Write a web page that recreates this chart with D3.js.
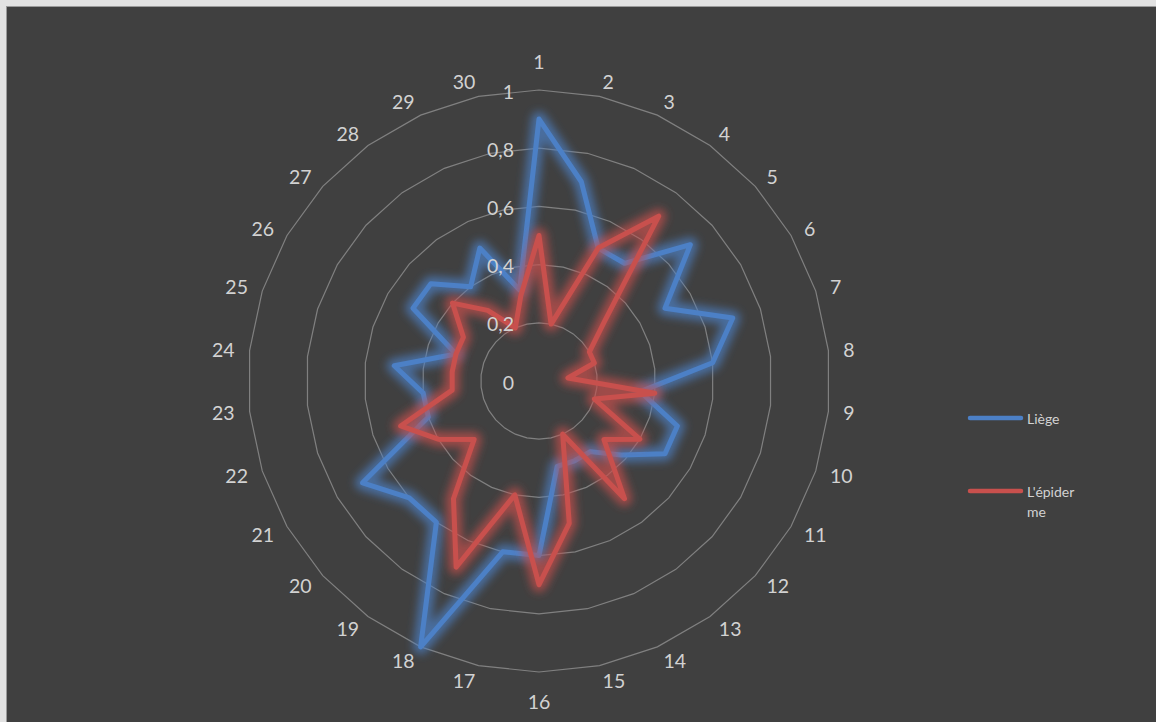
<!DOCTYPE html>
<html>
<head>
<meta charset="utf-8">
<script src="https://cdn.jsdelivr.net/npm/d3@7"></script>
<style>
  html, body { margin: 0; padding: 0; background: #e2e2e2; }
  svg { display: block; }
</style>
</head>
<body>
<svg id="chart" width="1156" height="722"></svg>
<script>
// Categories around the radar (clockwise from the top)
const categories = ["1","2","3","4","5","6","7","8","9","10","11","12","13","14","15",
                    "16","17","18","19","20","21","22","23","24","25","26","27","28","29","30"];

// Series values
const liegeValues = [0.9, 0.7, 0.5, 0.5, 0.7, 0.5, 0.7, 0.6, 0.35, 0.5,
                     0.5, 0.38, 0.3, 0.3, 0.3, 0.6, 0.6, 1.0, 0.6, 0.6,
                     0.7, 0.4, 0.4, 0.5, 0.3, 0.5, 0.5, 0.4, 0.5, 0.32];
const epidermeValues = [0.5, 0.2, 0.5, 0.7, 0.3, 0.2, 0.2, 0.1, 0.4, 0.2,
                        0.4, 0.3, 0.5, 0.2, 0.5, 0.7, 0.4, 0.7, 0.5, 0.3,
                        0.4, 0.5, 0.3, 0.3, 0.3, 0.3, 0.4, 0.3, 0.2, 0.3];

// Radial axis ticks
const radialTicks = [0, 0.2, 0.4, 0.6, 0.8, 1];
const radialTickLabels = ["0", "0,2", "0,4", "0,6", "0,8", "1"];

const seriesNames = ["Liège", "L'épiderme"];
const seriesColors = ["#4c80c6", "#c8504d"];

const W = 1156, H = 722;
const cx = 539, cy = 381, R = 291;
const svg = d3.select("#chart");
const font = "Lato, 'Open Sans', 'Noto Sans', sans-serif";

// Frame and dark chart area
svg.append("rect").attr("x", 0).attr("y", 0).attr("width", W).attr("height", H).attr("fill", "#e2e2e2");
svg.append("rect").attr("x", 6.5).attr("y", 6.5).attr("width", W).attr("height", H)
  .attr("fill", "#404040").attr("stroke", "#9a9a9a").attr("stroke-width", 1);

const defs = svg.append("defs");
defs.append("filter").attr("id", "glow").attr("x", "-20%").attr("y", "-20%").attr("width", "140%").attr("height", "140%")
  .append("feGaussianBlur").attr("stdDeviation", 4.5);

const r = d3.scaleLinear().domain([0, 1]).range([0, R]);
const angle = d3.scaleLinear().domain([0, categories.length]).range([0, 2 * Math.PI]);

const g = svg.append("g").attr("transform", `translate(${cx},${cy})`);

// Polygonal gridlines
const ringLine = d3.lineRadial()
  .angle((d, i) => angle(i))
  .radius(d => r(d))
  .curve(d3.curveLinearClosed);

g.selectAll("path.ring")
  .data(radialTicks.filter(t => t > 0))
  .join("path")
  .attr("class", "ring")
  .attr("d", t => ringLine(categories.map(() => t)))
  .attr("fill", "none")
  .attr("stroke", "#808080")
  .attr("stroke-width", 1.2);

// Category labels
const labelR = 306;
const cat = g.selectAll("text.cat")
  .data(categories)
  .join("text")
  .attr("class", "cat")
  .attr("text-anchor", "middle")
  .attr("dominant-baseline", "central")
  .attr("font-family", font)
  .attr("font-size", 19.5)
  .attr("fill", "#d2d2d2")
  .text(d => d);

cat.each(function(d, i) {
  const a = angle(i);
  const s = Math.sin(a), c = Math.cos(a);
  const w = this.getComputedTextLength();
  const sx = Math.abs(s) < 0.01 ? 0 : Math.sign(s);
  let x = labelR * s + sx * w / 2;
  let y = -labelR * c;
  if (Math.abs(s) < 0.01) y -= Math.sign(c) * 14;
  d3.select(this).attr("x", x).attr("y", y);
});

// Series lines with a soft glow
const seriesLine = d3.lineRadial()
  .angle((d, i) => angle(i))
  .radius(d => r(d))
  .curve(d3.curveLinearClosed);

[liegeValues, epidermeValues].forEach((vals, k) => {
  g.append("path")
    .attr("d", seriesLine(vals))
    .attr("fill", "none")
    .attr("stroke", seriesColors[k])
    .attr("stroke-width", 15)
    .attr("stroke-linejoin", "round")
    .attr("stroke-opacity", 0.7)
    .attr("filter", "url(#glow)");
  g.append("path")
    .attr("d", seriesLine(vals))
    .attr("fill", "none")
    .attr("stroke", seriesColors[k])
    .attr("stroke-width", 5)
    .attr("stroke-linejoin", "round");
});

// Radial tick labels, left of the vertical axis, above the series
g.selectAll("text.rtick")
  .data(radialTicks)
  .join("text")
  .attr("class", "rtick")
  .attr("x", -25)
  .attr("y", t => -r(t) + 1)
  .attr("text-anchor", "end")
  .attr("dominant-baseline", "central")
  .attr("font-family", font)
  .attr("font-size", 19.5)
  .attr("fill", "#d2d2d2")
  .text((t, i) => radialTickLabels[i]);

// Legend
const legend = svg.append("g");
const legendY = [418, 491];
seriesNames.forEach((name, k) => {
  legend.append("line")
    .attr("x1", 970).attr("x2", 1021)
    .attr("y1", legendY[k]).attr("y2", legendY[k])
    .attr("stroke", seriesColors[k])
    .attr("stroke-width", 4.5)
    .attr("stroke-linecap", "round");
});
legend.append("text")
  .attr("x", 1027).attr("y", legendY[0])
  .attr("dominant-baseline", "central")
  .attr("font-family", font).attr("font-size", 14).attr("fill", "#d2d2d2")
  .text(seriesNames[0]);
const t2 = legend.append("text")
  .attr("x", 1027).attr("y", legendY[1])
  .attr("dominant-baseline", "central")
  .attr("font-family", font).attr("font-size", 14).attr("fill", "#d2d2d2");
t2.append("tspan").attr("x", 1027).text("L'épider");
t2.append("tspan").attr("x", 1027).attr("dy", 20).text("me");
</script>
</body>
</html>
